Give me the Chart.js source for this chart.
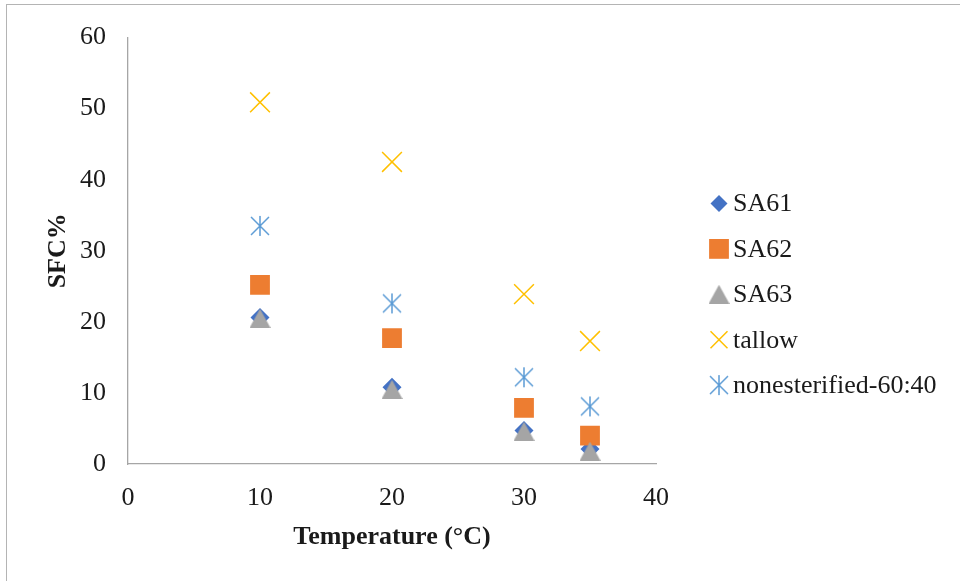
<!DOCTYPE html>
<html>
<head>
<meta charset="utf-8">
<title>SFC% vs temperature</title>
<script src="https://cdn.jsdelivr.net/npm/chart.js@4/dist/chart.umd.min.js"></script>
<style>
    html, body { margin: 0; padding: 0; background: #fff; overflow: hidden; }
    #wrap { position: relative; width: 960px; height: 581px; }
    #frame {
        position: absolute; left: 6px; top: 4px; width: 2000px; height: 2000px;
        border-left: 1.5px solid #b4b4b4; border-top: 1.5px solid #b4b4b4;
    }
    #chart { position: absolute; left: 0; top: 0; }
</style>
</head>
<body>
<div id="wrap">
    <div id="frame"></div>
    <canvas id="chart" width="960" height="581"></canvas>
</div>
<script>
// Solid fat content (%) measured at each temperature (°C)
const temps = [10, 20, 30, 35];
const sa61 = [20.6, 10.8, 4.7, 2.1];
const sa62 = [25.2, 17.7, 7.9, 4.0];
const sa63 = [20.5, 10.5, 4.6, 1.8];
const tallow = [50.9, 42.5, 23.9, 17.3];
const nonesterified = [33.5, 22.6, 12.2, 8.1];

const xTicks = [0, 10, 20, 30, 40];
const yTicks = [0, 10, 20, 30, 40, 50, 60];

const FONT = "'Liberation Serif', 'Times New Roman', serif";
const TEXT = '#1a1a1a';

function toPoints(ys) {
    return temps.map((t, i) => ({ x: t, y: ys[i] }));
}

// triangle marker centred on its bounding box
function makeTriangle(color) {
    const c = document.createElement('canvas');
    c.width = 21; c.height = 19;
    const g = c.getContext('2d');
    g.fillStyle = color;
    g.beginPath();
    g.moveTo(10.5, 0);
    g.lineTo(21, 19);
    g.lineTo(0, 19);
    g.closePath();
    g.fill();
    return c;
}

// asterisk marker: an X with a vertical bar through it
function makeAsterisk(color) {
    const c = document.createElement('canvas');
    c.width = 22; c.height = 22;
    const g = c.getContext('2d');
    g.strokeStyle = color;
    g.lineWidth = 1.5;
    g.beginPath();
    g.moveTo(11, 1); g.lineTo(11, 21);
    g.moveTo(2, 2); g.lineTo(20, 20);
    g.moveTo(20, 2); g.lineTo(2, 20);
    g.stroke();
    return c;
}

const series = [
    { label: 'SA61', data: sa61, color: '#4472C4', style: 'rectRot', radius: 9.5, order: 5 },
    { label: 'SA62', data: sa62, color: '#ED7D31', style: 'rect', radius: 14, order: 4 },
    { label: 'SA63', data: sa63, color: '#A5A5A5', style: makeTriangle('#A5A5A5'), radius: 10, order: 3 },
    { label: 'tallow', data: tallow, color: '#FFC000', style: 'crossRot', radius: 14, order: 2 },
    { label: 'nonesterified-60:40', data: nonesterified, color: '#5B9BD5', style: makeAsterisk('#5B9BD5'), radius: 11, order: 1 }
];

const datasets = series.map(s => ({
    label: s.label,
    data: toPoints(s.data),
    pointStyle: s.style,
    pointRadius: s.radius,
    pointHoverRadius: s.radius,
    backgroundColor: s.color,
    borderColor: s.color,
    pointBorderWidth: s.style === 'crossRot' ? 1.5 : 0,
    order: s.order
}));

// legend drawn to the right of the plot, one row per series
const sideLegend = {
    id: 'sideLegend',
    afterDraw(chart) {
        const ctx = chart.ctx;
        const x0 = 719, textX = 733, y0 = 203.5, step = 45.4;
        ctx.save();
        chart.data.datasets.forEach((ds, i) => {
            const y = y0 + i * step;
            let r = ds.pointRadius;
            if (ds.pointStyle === 'rectRot') r = 8.5;
            if (ds.pointStyle === 'crossRot') r = 12;
            ctx.fillStyle = ds.backgroundColor;
            ctx.strokeStyle = ds.borderColor;
            ctx.lineWidth = ds.pointBorderWidth;
            Chart.helpers.drawPoint(ctx, {
                pointStyle: ds.pointStyle,
                radius: r,
                rotation: 0,
                borderWidth: ds.pointBorderWidth
            }, x0, y);
            ctx.fillStyle = TEXT;
            ctx.font = '26px ' + FONT;
            ctx.textAlign = 'left';
            ctx.textBaseline = 'middle';
            ctx.fillText(ds.label, textX, y + 1);
        });
        ctx.restore();
    }
};

new Chart(document.getElementById('chart'), {
    type: 'scatter',
    data: { datasets: datasets },
    plugins: [sideLegend],
    options: {
        responsive: false,
        animation: false,
        events: [],
        layout: { padding: { left: 0, top: 34, right: 304, bottom: 0 } },
        plugins: {
            legend: { display: false },
            tooltip: { enabled: false }
        },
        scales: {
            x: {
                type: 'linear',
                min: xTicks[0],
                max: xTicks[xTicks.length - 1],
                afterBuildTicks: axis => { axis.ticks = xTicks.map(v => ({ value: v })); },
                afterFit: axis => { axis.height = 117; },
                grid: { display: false, drawTicks: false },
                border: { display: true, color: '#a6a6a6', width: 1.3 },
                ticks: { color: TEXT, padding: 19, font: { family: FONT, size: 26 } },
                title: {
                    display: true,
                    text: 'Temperature (°C)',
                    color: TEXT,
                    padding: { top: 0, bottom: 28 },
                    font: { family: FONT, size: 26, weight: 'bold' }
                }
            },
            y: {
                type: 'linear',
                min: yTicks[0],
                max: yTicks[yTicks.length - 1],
                afterBuildTicks: axis => { axis.ticks = yTicks.map(v => ({ value: v })); },
                afterFit: axis => { axis.width = 128; },
                grid: { display: false, drawTicks: false },
                border: { display: true, color: '#a6a6a6', width: 1.3 },
                ticks: { color: TEXT, padding: 22, font: { family: FONT, size: 26 } },
                title: {
                    display: true,
                    text: 'SFC%',
                    color: TEXT,
                    padding: { top: 43, bottom: 0 },
                    font: { family: FONT, size: 26, weight: 'bold' }
                }
            }
        }
    }
});
</script>
</body>
</html>
